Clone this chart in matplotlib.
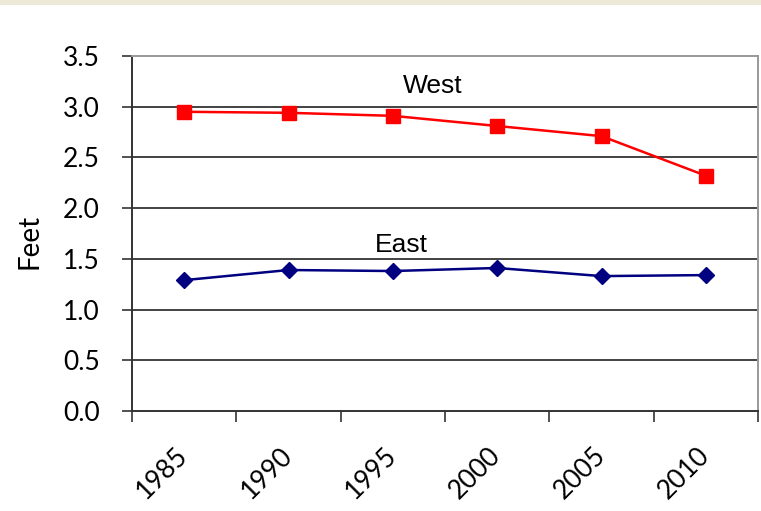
import matplotlib
matplotlib.use("Agg")
from matplotlib import pyplot as plt
from matplotlib.patches import Rectangle
import numpy as np

years = ["1985", "1990", "1995", "2000", "2005", "2010"]
west = [2.95, 2.94, 2.91, 2.81, 2.71, 2.32]
east = [1.29, 1.39, 1.38, 1.41, 1.33, 1.34]
y_ticks = [0.0, 0.5, 1.0, 1.5, 2.0, 2.5, 3.0, 3.5]

W, H = 761, 511
fig = plt.figure(figsize=(W / 100, H / 100), dpi=100)
# beige strip along the top edge
fig.patches.append(Rectangle((0, 1 - 5 / H), 1, 5 / H, transform=fig.transFigure,
                             facecolor="#ECE9D8", edgecolor="none", zorder=0))

ax = fig.add_axes([132 / W, 1 - 411 / H, 626 / W, 355 / H])
x = np.arange(len(years))

ax.plot(x, west, color="#FF0000", lw=1.8, marker="s", ms=9.5, zorder=3)
ax.plot(x, east, color="#000080", lw=1.8, marker="D", ms=8.5, zorder=3)

ax.text(2.38, 3.20, "West", ha="center", va="center", fontsize=19,
        family="Liberation Sans")
ax.text(2.08, 1.64, "East", ha="center", va="center", fontsize=19,
        family="Liberation Sans")

ax.set_xlim(-0.5, len(years) - 0.5)
ax.set_ylim(0, 3.5)
ax.set_yticks(y_ticks)
ax.set_yticklabels([f"{v:.1f}" for v in y_ticks], fontsize=19, family="Lato")
for v in y_ticks[1:-1]:
    ax.axhline(v, color="#222222", lw=1.2, zorder=1)

ax.set_xticks(x)
ax.set_xticklabels(years, rotation=45, ha="right", va="center",
                   rotation_mode="anchor", fontsize=19, family="Lato")
ax.tick_params(axis="x", which="major", length=0, pad=29)
ax.set_xticks(np.arange(-0.5, len(years)), minor=True)
ax.tick_params(axis="x", which="minor", length=8, width=1.2, color="#333333")
ax.tick_params(axis="y", length=7, width=1.2, color="#333333", pad=16)

ax.spines["left"].set_color("#333333")
ax.spines["bottom"].set_color("#333333")
ax.spines["top"].set_color("#999999")
ax.spines["right"].set_color("#999999")
for s in ax.spines.values():
    s.set_linewidth(1.4)

fig.text(29 / W, 1 - 241 / H, "Feet", rotation=90, ha="center", va="center",
         fontsize=20, family="Lato")

fig.savefig("out.png", dpi=100)
